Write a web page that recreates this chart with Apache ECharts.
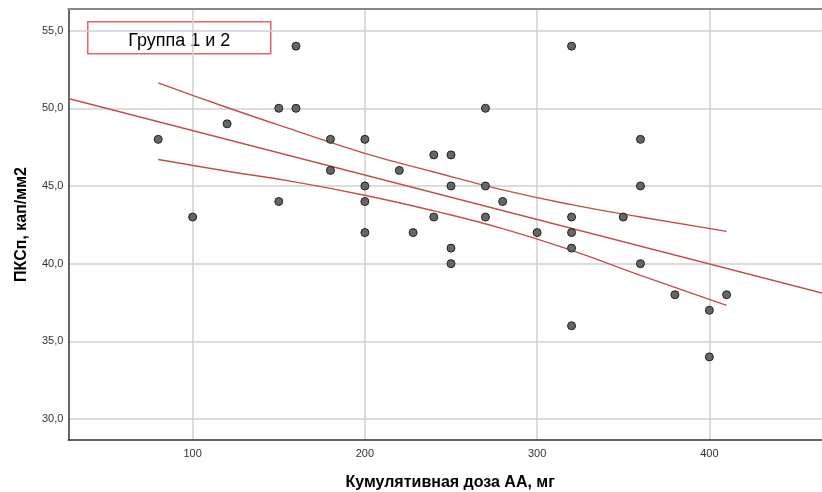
<!DOCTYPE html>
<html>
<head>
<meta charset="utf-8">
<script src="https://cdn.jsdelivr.net/npm/echarts@6/dist/echarts.min.js"></script>
<style>
html,body{margin:0;padding:0;background:#fff;}
#chart{width:822px;height:492px;}
</style>
</head>
<body>
<div id="chart"></div>
<script>
// Scatter data: cumulative dose (mg) and PKSp (cap/mm2)
const doseValues = [80,100,120,150,160,160,150,180,180,200,200,200,200,220,228,240,240,250,250,250,250,270,270,270,280,300,320,320,320,320,320,350,360,360,360,380,400,400,410];
const pkspValues = [48,43,49,50,54,50,44,48,46,48,45,44,42,46,42,47,43,47,45,41,40,50,45,43,44,42,54,43,42,41,36,43,48,45,40,38,37,34,38];

// Regression line (at the plot edges)
const fitX = [27.8, 465.4];
const fitY = [50.63, 38.11];

// Confidence band
const bandX = [80, 120, 160, 200, 240, 280, 320, 360, 410];
const upperY = [51.64, 50.05, 48.55, 47.1, 45.9, 44.75, 43.8, 43.0, 42.08];
const lowerY = [46.70, 45.95, 45.25, 44.4, 43.4, 42.25, 40.85, 39.25, 37.31];

const xTicks = [100, 200, 300, 400];
const yTicks = [30, 35, 40, 45, 50, 55];

const legendLabel = 'Группа 1 и 2';
const xTitle = 'Кумулятивная доза АА, мг';
const yTitle = 'ПКСп, кап/мм2';

const lineColor = '#c0504d';
const zip = (a, b) => a.map((v, i) => [v, b[i]]);

const chart = echarts.init(document.getElementById('chart'), null, {renderer: 'canvas'});
chart.setOption({
  animation: false,
  backgroundColor: '#ffffff',
  grid: {left: 68.3, top: 9, right: 0, bottom: 52, containLabel: false, outerBoundsMode: 'none'},
  xAxis: [{
    type: 'value',
    min: 27.8, max: 465.4,
    name: xTitle,
    nameLocation: 'middle',
    nameGap: 35,
    nameTextStyle: {fontFamily: 'Liberation Sans', fontWeight: 'bold', fontSize: 16, color: '#000', padding: [0, 0, 0, 10]},
    axisLine: {show: true, lineStyle: {color: '#333', width: 1.5}},
    axisTick: {show: false, customValues: xTicks},
    axisLabel: {customValues: xTicks, fontFamily: 'Liberation Sans', fontSize: 11, color: '#333', margin: 8},
    splitLine: {show: true, lineStyle: {color: '#d0d0d0', width: 1.5}}
  }, {
    type: 'value',
    position: 'top',
    min: 27.8, max: 465.4,
    axisLine: {show: true, lineStyle: {color: '#888', width: 2}},
    axisTick: {show: false},
    axisLabel: {show: false},
    splitLine: {show: false}
  }],
  yAxis: {
    type: 'value',
    min: 28.65, max: 56.39,
    name: yTitle,
    nameLocation: 'middle',
    nameGap: 39,
    nameRotate: 90,
    nameTextStyle: {fontFamily: 'Liberation Sans', fontWeight: 'bold', fontSize: 16, color: '#000'},
    axisLine: {show: true, lineStyle: {color: '#333', width: 1.5}},
    axisTick: {show: false, customValues: yTicks},
    axisLabel: {
      customValues: yTicks,
      fontFamily: 'Liberation Sans', fontSize: 11, color: '#333', margin: 5,
      formatter: v => v.toFixed(1).replace('.', ',')
    },
    splitLine: {show: true, lineStyle: {color: '#d0d0d0', width: 1.5}}
  },
  graphic: [{
    type: 'group',
    left: 87, top: 21,
    children: [{
      type: 'rect',
      shape: {x: 0, y: 0, width: 183, height: 32},
      style: {fill: '#fff', stroke: '#e06666', lineWidth: 1.5}
    }, {
      type: 'text',
      x: 91.5, y: 19,
      style: {text: legendLabel, fontFamily: 'Liberation Sans', fontSize: 18, fill: '#000', align: 'center', verticalAlign: 'middle'}
    }]
  }],
  series: [{
    type: 'line',
    data: zip(fitX, fitY),
    showSymbol: false,
    lineStyle: {color: lineColor, width: 1.4},
    z: 2
  }, {
    type: 'line',
    data: zip(bandX, upperY),
    smooth: true,
    showSymbol: false,
    lineStyle: {color: lineColor, width: 1.4},
    z: 2
  }, {
    type: 'line',
    data: zip(bandX, lowerY),
    smooth: true,
    showSymbol: false,
    lineStyle: {color: lineColor, width: 1.4},
    z: 2
  }, {
    type: 'scatter',
    data: zip(doseValues, pkspValues),
    symbolSize: 8,
    itemStyle: {color: '#666', borderColor: '#222', borderWidth: 1, opacity: 1},
    z: 5
  }]
});
</script>
</body>
</html>
